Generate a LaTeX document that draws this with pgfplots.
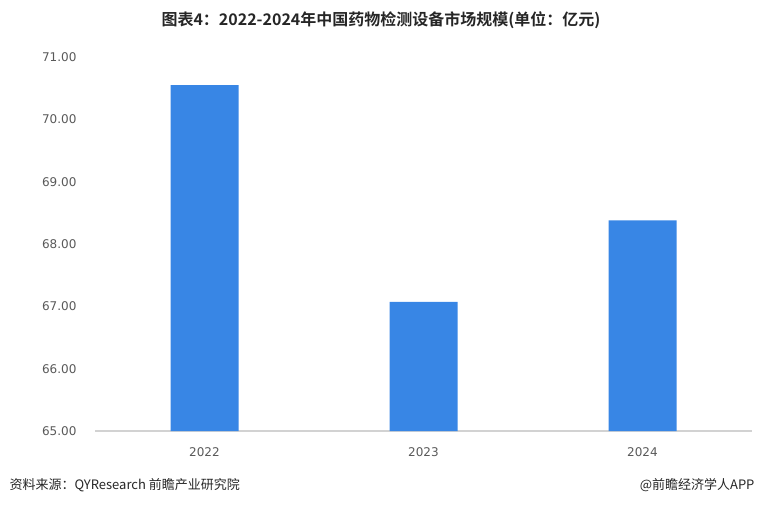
\documentclass[border=0pt]{standalone}
\usepackage{fontspec}
\setmainfont{DejaVu Sans}
\newfontfamily\cjk{Noto Sans CJK SC}
\newfontfamily\cjkb{Noto Sans CJK SC Bold}
\usepackage{pgfplots}
\pgfplotsset{compat=1.18}
\definecolor{barblue}{RGB}{56,134,229}
\definecolor{ticktxt}{RGB}{89,89,89}
\definecolor{axisgray}{RGB}{210,210,210}
\begin{document}
\begin{tikzpicture}[x=1pt,y=1pt]
\useasboundingbox (0,0) rectangle (760,504);
\begin{axis}[
  at={(95pt,73pt)}, anchor=south west,
  scale only axis, width=657pt, height=374pt,
  xmin=-0.5, xmax=2.5, ymin=65, ymax=71,
  xtick={0,1,2}, xticklabels={2022,2023,2024},
  ytick={65,66,67,68,69,70,71},
  yticklabel style={/pgf/number format/fixed, /pgf/number format/fixed zerofill, /pgf/number format/precision=2, xshift=-15pt},
  /pgf/number format/assume math mode=true,
  ticklabel style={font=\fontsize{12}{14}\selectfont, text=ticktxt},
  xticklabel style={yshift=-13pt},
  axis x line*=bottom,
  axis y line*=left,
  y axis line style={draw=none},
  x axis line style={draw=axisgray, line width=1.2pt, -},
  major tick length=0pt,
  tick style={draw=none},
  ybar, bar width=68pt,
  clip=false,
]
\addplot[fill=barblue, draw=none] coordinates {(0,70.55) (1,67.07) (2,68.38)};
\end{axis}
\node[font=\cjkb\fontsize{16}{18}\selectfont, text=black!85] at (381,484) {图表4：2022-2024年中国药物检测设备市场规模(单位：亿元)};
\node[anchor=west, font=\cjk\fontsize{13}{15}\selectfont, text=black!85] at (6,19) {资料来源：QYResearch 前瞻产业研究院};
\node[anchor=east, font=\cjk\fontsize{13}{15}\selectfont, text=black!85] at (758,19) {@前瞻经济学人APP};
\end{tikzpicture}
\end{document}
